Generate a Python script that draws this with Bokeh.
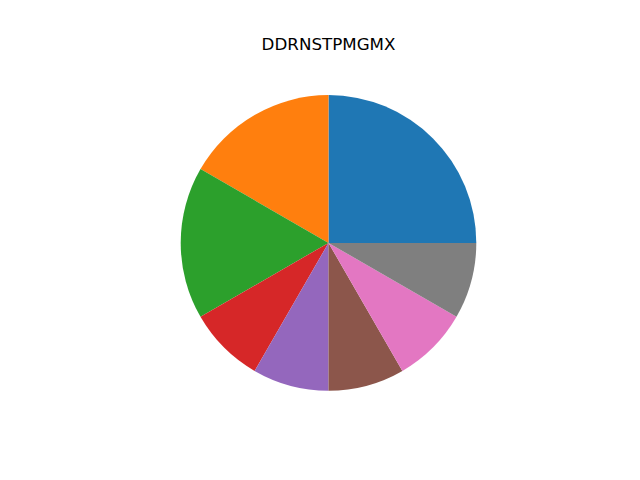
import numpy as np
from bokeh.plotting import figure
from bokeh.models import Range1d, ColumnDataSource
from bokeh.core.properties import value
from bokeh.embed import file_html
from bokeh.resources import INLINE

title = "DDRNSTPMGMX"
labels = ["A", "B", "C", "D", "E", "F", "G", "H"]
values = [3, 2, 2, 1, 1, 1, 1, 1]
colors = ["#1f77b4", "#ff7f0e", "#2ca02c", "#d62728",
          "#9467bd", "#8c564b", "#e377c2", "#7f7f7f"]

W, H = 640, 480
scale = 147.8  # px per unit
cx, cy = 328.0, 242.4

vals = np.array(values, dtype=float)
fr = vals / vals.sum()
ends = np.cumsum(fr) * 2 * np.pi
starts = np.concatenate([[0.0], ends[:-1]])

src = ColumnDataSource(dict(start=starts, end=ends, color=colors, label=labels))

p = figure(width=W, height=H, output_backend="svg", toolbar_location=None,
           x_range=Range1d(-cx / scale, (W - cx) / scale),
           y_range=Range1d(-(H - cy) / scale, cy / scale),
           min_border=0)
p.axis.visible = False
p.grid.visible = False
p.outline_line_color = None
p.background_fill_color = "white"
p.border_fill_color = "white"

p.wedge(x=0, y=0, radius=1, start_angle="start", end_angle="end",
        fill_color="color", line_color=None, source=src)

title_y = (cy - 43.0) / scale
p.text(x=[0], y=[title_y], text=[title], text_align="center",
       text_baseline="middle", text_font=value("DejaVu Sans"),
       text_font_size="16.7px", text_color="black")

open("out.html", "w").write(file_html(p, INLINE))
